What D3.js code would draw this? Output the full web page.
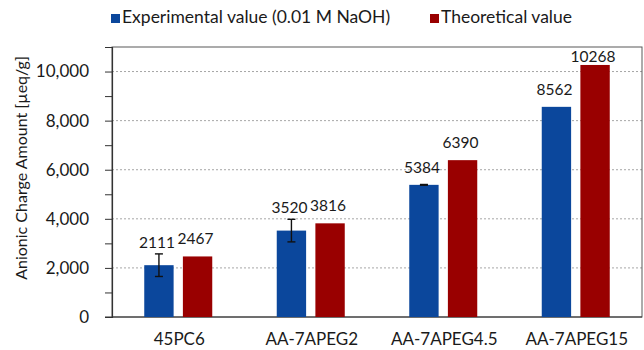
<!DOCTYPE html>
<html>
<head>
<meta charset="utf-8">
<script src="https://cdn.jsdelivr.net/npm/d3@7"></script>
<style>
  body { margin: 0; background: #fff; }
  svg text { font-family: Lato, "Open Sans", sans-serif; fill: #1a1a1a; }
</style>
</head>
<body>
<svg id="chart" width="644" height="350"></svg>
<script>
const categories = ["45PC6", "AA-7APEG2", "AA-7APEG4.5", "AA-7APEG15"];
const seriesNames = ["Experimental value (0.01 M NaOH)", "Theoretical value"];
const experimental = [2111, 3520, 5384, 8562];
const experimentalErr = [460, 460, 15, 0];
const theoretical = [2467, 3816, 6390, 10268];
const yTicks = [0, 2000, 4000, 6000, 8000, 10000];
const colors = ["#0b479c", "#990000"];

const svg = d3.select("#chart");
const margin = { top: 47, right: 2, bottom: 33, left: 112 };
const width = 644;
const height = 350;
const innerW = width - margin.left - margin.right;
const innerH = height - margin.top - margin.bottom;

const g = svg.append("g").attr("transform", `translate(${margin.left},${margin.top})`);

const x = d3.scaleBand().domain(categories).range([0, innerW]).paddingInner(0).paddingOuter(0);
const xs = d3.scaleBand().domain([0, 1]).range([x.bandwidth() / 2 - 34, x.bandwidth() / 2 + 34]).paddingInner(0.24);
const y = d3.scaleLinear().domain([0, 11000]).range([innerH, 0]);

// grid
g.append("g")
  .selectAll("line")
  .data(yTicks.filter((d) => d > 0))
  .join("line")
  .attr("x1", 0)
  .attr("x2", innerW)
  .attr("y1", (d) => y(d))
  .attr("y2", (d) => y(d))
  .attr("stroke", "#a6a6a6")
  .attr("stroke-dasharray", "2,2")
  .attr("stroke-width", 1);

// plot frame
g.append("rect")
  .attr("x", 0)
  .attr("y", 0)
  .attr("width", innerW)
  .attr("height", innerH)
  .attr("fill", "none")
  .attr("stroke", "#595959")
  .attr("stroke-width", 1);

// y axis
const yAxis = g.append("g")
  .call(
    d3.axisLeft(y)
      .tickValues(d3.range(0, 11001, 1000))
      .tickSize(7)
      .tickFormat((d) => (yTicks.includes(d) ? d3.format(",")(d) : ""))
  );
yAxis.select(".domain").attr("stroke", "#333").attr("stroke-width", 1.2);
yAxis.selectAll(".tick line").attr("stroke", "#333");
yAxis.selectAll(".tick text")
  .attr("x", -23)
  .attr("font-size", 17)
  .attr("fill", "#1a1a1a");

// x axis line
g.append("line")
  .attr("x1", -7)
  .attr("x2", innerW)
  .attr("y1", innerH)
  .attr("y2", innerH)
  .attr("stroke", "#333")
  .attr("stroke-width", 1.2);

g.append("g")
  .selectAll("text")
  .data(categories)
  .join("text")
  .attr("x", (d) => x(d) + x.bandwidth() / 2 + 1)
  .attr("y", innerH + 28)
  .attr("text-anchor", "middle")
  .attr("font-size", 17)
  .text((d) => d);

// bars
const rows = categories.map((c, i) => ({
  cat: c,
  vals: [
    { s: 0, v: experimental[i], err: experimentalErr[i] },
    { s: 1, v: theoretical[i], err: 0 },
  ],
}));

const groups = g.append("g")
  .selectAll("g")
  .data(rows)
  .join("g")
  .attr("transform", (d) => `translate(${x(d.cat)},0)`);

groups.selectAll("rect")
  .data((d) => d.vals)
  .join("rect")
  .attr("x", (d) => xs(d.s))
  .attr("width", xs.bandwidth())
  .attr("y", (d) => y(d.v))
  .attr("height", (d) => innerH - y(d.v))
  .attr("fill", (d) => colors[d.s]);

// error bars
const errs = groups.selectAll("g.err")
  .data((d) => d.vals.filter((v) => v.err > 0))
  .join("g")
  .attr("class", "err")
  .attr("stroke", "#111")
  .attr("stroke-width", 1.4);
errs.append("line")
  .attr("x1", (d) => xs(d.s) + xs.bandwidth() / 2)
  .attr("x2", (d) => xs(d.s) + xs.bandwidth() / 2)
  .attr("y1", (d) => y(d.v + d.err))
  .attr("y2", (d) => y(d.v - d.err));
[1, -1].forEach((sgn) => {
  errs.append("line")
    .attr("x1", (d) => xs(d.s) + xs.bandwidth() / 2 - 4)
    .attr("x2", (d) => xs(d.s) + xs.bandwidth() / 2 + 4)
    .attr("y1", (d) => y(d.v + sgn * d.err))
    .attr("y2", (d) => y(d.v + sgn * d.err));
});

// value labels
groups.selectAll("text.val")
  .data((d) => d.vals)
  .join("text")
  .attr("class", "val")
  .attr("x", (d) => xs(d.s) + xs.bandwidth() / 2 - 2)
  .attr("y", (d) => {
    const top = d.err > 20 ? y(d.v + d.err) - 6 : y(d.v) - 12;
    return Math.max(top, 15);
  })
  .attr("text-anchor", "middle")
  .attr("font-size", 15.5)
  .text((d) => d.v);

// y title
svg.append("text")
  .attr("transform", "translate(27,168) rotate(-90)")
  .attr("text-anchor", "middle")
  .attr("font-size", 16)
  .text("Anionic Charge Amount [µeq/g]");

// legend
const legendX = [111, 430];
const legend = svg.append("g")
  .selectAll("g")
  .data(seriesNames)
  .join("g")
  .attr("transform", (d, i) => `translate(${legendX[i]},14)`);
legend.append("rect")
  .attr("width", 9)
  .attr("height", 9)
  .attr("fill", (d, i) => colors[i]);
legend.append("text")
  .attr("x", 11)
  .attr("y", 9)
  .attr("font-size", 17.5)
  .text((d) => d);
</script>
</body>
</html>
